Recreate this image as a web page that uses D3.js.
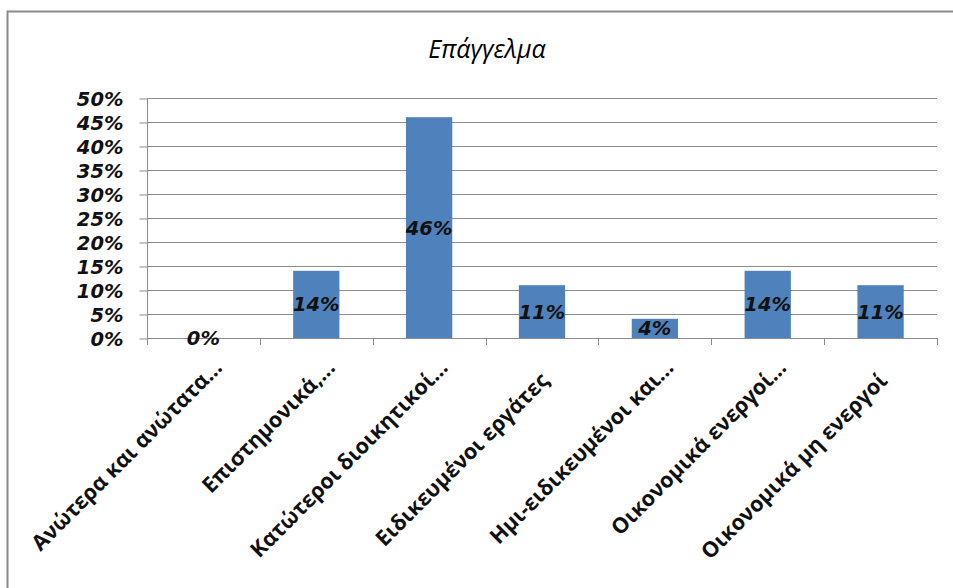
<!DOCTYPE html>
<html><head><meta charset="utf-8">
<script src="https://cdn.jsdelivr.net/npm/d3@7"></script>
<style>body{margin:0;background:#fff}svg{display:block}</style>
</head><body>
<svg id="c" width="953" height="588"></svg>
<script>
const title = "Επάγγελμα";
const categories = ["Ανώτερα και ανώτατα...", "Επιστημονικά,...", "Κατώτεροι διοικητικοί...", "Ειδικευμένοι εργάτες", "Ημι-ειδικευμένοι και...", "Οικονομικά ενεργοί...", "Οικονομικά μη ενεργοί"];
const values = [0, 0.14, 0.46, 0.11, 0.04, 0.14, 0.11];
const valueLabels = ["0%", "14%", "46%", "11%", "4%", "14%", "11%"];
const yTicks = [0, 0.05, 0.10, 0.15, 0.20, 0.25, 0.30, 0.35, 0.40, 0.45, 0.50];

const svg = d3.select("#c");
const L = 147, R = 937, T = 98, B = 338;
const numFont = "DejaVu Sans";

svg.append("rect").attr("x", 7.5).attr("y", 11.5).attr("width", 960).attr("height", 600)
  .attr("fill", "none").attr("stroke", "#8a8a8a").attr("stroke-width", 2);

svg.append("text").attr("x", 487).attr("y", 58).attr("text-anchor", "middle")
  .attr("font-family", "Open Sans").attr("font-style", "italic").attr("font-size", 25)
  .attr("fill", "#000").text(title);

const x = d3.scaleBand().domain(categories).range([L, R]).paddingInner(0.59).paddingOuter(0.295);
const y = d3.scaleLinear().domain([0, 0.5]).range([B, T]);

// gridlines
svg.append("g").selectAll("line").data(yTicks.slice(1)).join("line")
  .attr("x1", L).attr("x2", R).attr("y1", d => y(d) + 0.5).attr("y2", d => y(d) + 0.5)
  .attr("stroke", "#8c8c8c").attr("stroke-width", 1);

// y axis
const yAxis = svg.append("g").attr("transform", `translate(${L + 0.5},0.5)`)
  .call(d3.axisLeft(y).tickValues(yTicks).tickFormat(d3.format(".0%")).tickSize(8).tickPadding(16));
yAxis.select(".domain").attr("stroke", "#8c8c8c").attr("d", `M0,${T}V${B}`);
yAxis.selectAll(".tick line").attr("stroke", "#8c8c8c");
yAxis.selectAll(".tick text").attr("font-family", numFont).attr("font-weight", "bold")
  .attr("font-style", "italic").attr("font-size", 19.5).attr("fill", "#111").attr("dy", "0.36em");

// bars
svg.append("g").selectAll("rect").data(values).join("rect")
  .attr("x", (d, i) => x(categories[i])).attr("width", x.bandwidth())
  .attr("y", d => y(d)).attr("height", d => y(0) - y(d))
  .attr("fill", "#4F81BD");

// x axis
const step = x.step();
const bounds = d3.range(categories.length + 1).map(i => L + i * step);
const xg = svg.append("g");
xg.append("line").attr("x1", L).attr("x2", R).attr("y1", B + 0.5).attr("y2", B + 0.5).attr("stroke", "#8c8c8c");
xg.selectAll("line.t").data(bounds).join("line").attr("class", "t")
  .attr("x1", d => Math.round(d) + 0.5).attr("x2", d => Math.round(d) + 0.5)
  .attr("y1", B).attr("y2", B + 7).attr("stroke", "#8c8c8c");

// data labels
svg.append("g").selectAll("text").data(values).join("text")
  .attr("x", (d, i) => x(categories[i]) + x.bandwidth() / 2)
  .attr("y", d => (y(d) + y(0)) / 2)
  .attr("dy", "0.36em").attr("text-anchor", "middle")
  .attr("font-family", numFont).attr("font-weight", "bold").attr("font-style", "italic")
  .attr("font-size", 19.5).attr("fill", "#111")
  .text((d, i) => valueLabels[i]);

// category labels (truncated labels sit a little higher, as in the original)
svg.append("g").selectAll("text").data(categories).join("text")
  .attr("transform", d => {
    const cx = x(d) + x.bandwidth() / 2;
    const trunc = d.endsWith("...");
    return `translate(${cx + (trunc ? 20 : 8)},${B + (trunc ? 31 : 44)}) rotate(-45)`;
  })
  .attr("text-anchor", "end")
  .attr("font-family", "Open Sans").attr("font-weight", "bold")
  .attr("font-size", 21.5).attr("fill", "#111")
  .text(d => d);
</script>
</body></html>
